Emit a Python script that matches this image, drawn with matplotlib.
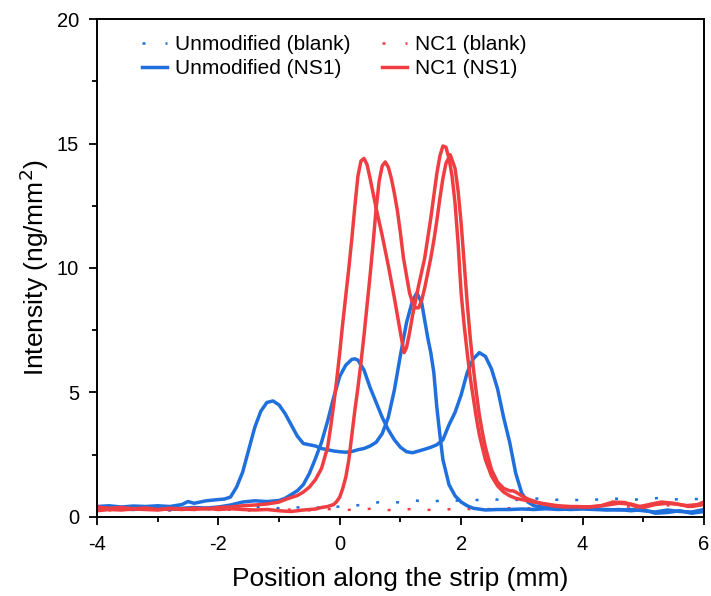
import matplotlib
matplotlib.use("Agg")
import matplotlib.pyplot as plt
from matplotlib.lines import Line2D
from matplotlib.ticker import MultipleLocator

plt.rcParams['font.family'] = ['Liberation Sans', 'DejaVu Sans']
plt.rcParams['axes.unicode_minus'] = False

# Unmodified (NS1), replicate 1
x_un1 = [-4.0, -3.8, -3.6, -3.4, -3.2, -3.0, -2.8, -2.6, -2.5, -2.4, -2.2, -2.0, -1.9, -1.8, -1.7,
         -1.6, -1.5, -1.4, -1.3, -1.2, -1.1, -1.0, -0.9, -0.8, -0.7, -0.6, -0.5, -0.4, -0.3, -0.2,
         -0.1, 0.0, 0.1, 0.2, 0.3, 0.4, 0.5, 0.6, 0.7, 0.8, 0.9, 1.0, 1.1, 1.2, 1.27, 1.35, 1.4,
         1.45, 1.5, 1.55, 1.6, 1.65, 1.7, 1.8, 1.9, 2.0, 2.1, 2.2, 2.4, 2.6, 2.8, 3.0, 3.2, 3.4,
         3.6, 3.8, 4.0, 4.2, 4.4, 4.6, 4.8, 5.0, 5.2, 5.4, 5.6, 5.8, 6.0]
y_un1 = [0.42, 0.45, 0.40, 0.44, 0.42, 0.45, 0.42, 0.50, 0.62, 0.55, 0.65, 0.70, 0.72, 0.80, 1.2,
         1.8, 2.7, 3.6, 4.25, 4.6, 4.66, 4.5, 4.15, 3.7, 3.25, 2.95, 2.9, 2.85, 2.75, 2.7,
         2.65, 2.62, 2.6, 2.63, 2.7, 2.75, 2.85, 3.0, 3.35, 4.0, 5.1, 6.5, 7.8, 8.7, 9.0, 8.6, 7.9,
         7.2, 6.6, 5.8, 4.4, 3.3, 2.3, 1.3, 0.85, 0.6, 0.45, 0.35, 0.28, 0.3, 0.3, 0.32, 0.3, 0.33,
         0.3, 0.32, 0.35, 0.32, 0.3, 0.28, 0.3, 0.25, 0.2, 0.28, 0.22, 0.2, 0.3]

# Unmodified (NS1), replicate 2
x_un2 = [-4.0, -3.8, -3.6, -3.4, -3.2, -3.0, -2.8, -2.6, -2.4, -2.2, -2.0, -1.8, -1.6, -1.4, -1.2,
         -1.0, -0.9, -0.8, -0.7, -0.6, -0.5, -0.4, -0.3, -0.2, -0.1, 0.0, 0.1, 0.2, 0.25, 0.3, 0.4,
         0.5, 0.6, 0.7, 0.8, 0.9, 1.0, 1.1, 1.2, 1.3, 1.4, 1.5, 1.6, 1.7, 1.8, 1.9, 2.0, 2.1, 2.2,
         2.3, 2.4, 2.5, 2.6, 2.7, 2.8, 2.9, 3.0, 3.1, 3.2, 3.4, 3.6, 3.8, 4.0, 4.2, 4.4, 4.6, 4.8,
         5.0, 5.2, 5.4, 5.6, 5.8, 6.0]
y_un2 = [0.3, 0.35, 0.32, 0.3, 0.35, 0.33, 0.3, 0.35, 0.38, 0.36, 0.4, 0.48, 0.6, 0.65, 0.62,
         0.66, 0.75, 0.9, 1.05, 1.3, 1.75, 2.35, 3.0, 3.85, 4.8, 5.65, 6.1, 6.33, 6.35, 6.3, 5.9,
         5.2, 4.6, 4.0, 3.5, 3.1, 2.8, 2.62, 2.58, 2.65, 2.72, 2.8, 2.9, 3.1, 3.7, 4.2, 4.9, 5.8, 6.35,
         6.6, 6.45, 5.95, 5.15, 4.0, 3.0, 1.75, 0.95, 0.6, 0.45, 0.38, 0.33, 0.3, 0.32, 0.3, 0.28, 0.3, 0.25,
         0.3, 0.15, 0.18, 0.25, 0.15, 0.22]

# NC1 (NS1), replicate 1
x_nc1 = [-4.0, -3.8, -3.6, -3.4, -3.2, -3.0, -2.8, -2.6, -2.4, -2.2, -2.0, -1.8, -1.6, -1.4, -1.2,
         -1.0, -0.9, -0.8, -0.7, -0.6, -0.5, -0.4, -0.3, -0.2, -0.15, -0.1, -0.05, 0.0, 0.05, 0.1,
         0.15, 0.2, 0.25, 0.3, 0.35, 0.4, 0.45, 0.5, 0.55, 0.6, 0.7, 0.8, 0.9, 1.0, 1.06, 1.1, 1.15,
         1.2, 1.3, 1.4, 1.5, 1.6, 1.65, 1.7, 1.75, 1.8, 1.85, 1.9, 1.95, 2.0, 2.05, 2.1, 2.15, 2.2,
         2.25, 2.3, 2.4, 2.5, 2.6, 2.7, 2.8, 2.9, 3.0, 3.2, 3.4, 3.6, 3.8, 4.0, 4.2, 4.4, 4.6, 4.8,
         5.0, 5.2, 5.4, 5.6, 5.8, 6.0]
y_nc1 = [0.25, 0.3, 0.28, 0.32, 0.3, 0.28, 0.33, 0.3, 0.35, 0.32, 0.38, 0.4, 0.45, 0.48, 0.52,
         0.6, 0.7, 0.78, 0.86, 1.0, 1.2, 1.5, 1.95, 2.8, 3.6, 4.5, 5.5, 6.6, 7.8, 8.9,
         10.0, 11.2, 12.5, 13.7, 14.3, 14.4, 14.15, 13.6, 13.0, 12.4, 11.3, 10.1, 8.8, 7.4, 6.6, 6.8, 7.4,
         8.1, 9.3, 10.4, 12.0, 13.8, 14.5, 14.9, 14.85, 14.4, 13.7, 12.6, 11.0, 9.0, 7.7, 6.6, 5.6, 4.8,
         4.0, 3.3, 2.3, 1.65, 1.25, 1.0, 0.85, 0.75, 0.7, 0.6, 0.52, 0.45, 0.42, 0.4, 0.42, 0.48, 0.55, 0.52,
         0.38, 0.5, 0.55, 0.5, 0.42, 0.5]

# NC1 (NS1), replicate 2
x_nc2 = [-4.0, -3.8, -3.6, -3.4, -3.2, -3.0, -2.8, -2.6, -2.4, -2.2, -2.0, -1.8, -1.6, -1.4, -1.2,
         -1.0, -0.8, -0.6, -0.4, -0.3, -0.2, -0.1, -0.05, 0.0, 0.05, 0.1, 0.15, 0.2, 0.25, 0.3, 0.35,
         0.4, 0.45, 0.5, 0.55, 0.6, 0.65, 0.7, 0.75, 0.8, 0.85, 0.9, 0.95, 1.0, 1.05, 1.1, 1.15, 1.2,
         1.25, 1.3, 1.35, 1.4, 1.45, 1.5, 1.55, 1.6, 1.65, 1.7, 1.75, 1.82, 1.9, 1.95, 2.0, 2.05, 2.1,
         2.15, 2.2, 2.25, 2.3, 2.35, 2.4, 2.5, 2.6, 2.7, 2.8, 2.85, 2.9, 3.0, 3.1, 3.3, 3.5, 3.7, 3.9,
         4.1, 4.3, 4.5, 4.7, 4.9, 5.1, 5.3, 5.5, 5.7, 5.9, 6.0]
y_nc2 = [0.4, 0.35, 0.38, 0.33, 0.36, 0.3, 0.35, 0.32, 0.3, 0.35, 0.3, 0.33, 0.3, 0.28, 0.3,
         0.25, 0.22, 0.28, 0.32, 0.38, 0.42, 0.5, 0.62, 0.8, 1.15, 1.6, 2.3, 3.3, 4.3, 5.2, 6.2,
         7.3, 8.5, 9.7, 11.0, 12.4, 13.5, 14.1, 14.26, 14.05, 13.6, 13.0, 12.3, 11.4, 10.4, 9.7, 9.0, 8.6,
         8.4, 8.4, 8.7, 9.2, 9.8, 10.4, 11.1, 11.9, 12.8, 13.6, 14.2, 14.55, 14.0, 13.1, 11.8, 10.2, 8.6,
         7.2, 6.0, 5.0, 4.1, 3.4, 2.8, 1.9, 1.4, 1.15, 1.05, 1.05, 1.0, 0.85, 0.72, 0.55, 0.45, 0.4, 0.42,
         0.4, 0.45, 0.6, 0.58, 0.4, 0.5, 0.6, 0.55, 0.45, 0.5, 0.6]

# blanks
x_blank = [-4.0, -3.75, -3.5, -3.25, -3.0, -2.75, -2.5, -2.25, -2.0, -1.75, -1.5, -1.25, -1.0,
           -0.75, -0.5, -0.25, 0.0, 0.25, 0.5, 0.75, 1.0, 1.25, 1.5, 1.75, 2.0, 2.25, 2.5, 2.75,
           3.0, 3.25, 3.5, 3.75, 4.0, 4.25, 4.5, 4.75, 5.0, 5.25, 5.5, 5.75, 6.0]
y_un_blank = [0.38, 0.42, 0.36, 0.4, 0.35, 0.38, 0.42, 0.37, 0.4, 0.36, 0.39, 0.41, 0.35,
              0.38, 0.4, 0.36, 0.42, 0.45, 0.55, 0.62, 0.58, 0.66, 0.6, 0.7, 0.64, 0.68, 0.72, 0.66,
              0.7, 0.74, 0.68, 0.72, 0.66, 0.7, 0.75, 0.68, 0.72, 0.76, 0.7, 0.74, 0.7]
y_nc_blank = [0.3, 0.26, 0.32, 0.28, 0.3, 0.25, 0.3, 0.33, 0.28, 0.3, 0.26, 0.31, 0.28,
              0.3, 0.27, 0.32, 0.3, 0.28, 0.33, 0.27, 0.3, 0.32, 0.28, 0.3, 0.34, 0.3, 0.32, 0.36,
              0.3, 0.4, 0.42, 0.38, 0.4, 0.45, 0.5, 0.42, 0.4, 0.5, 0.45, 0.4, 0.5]

blue = '#1f6fdd'
red = '#ef3e42'
lw = 2.5

fig = plt.figure(figsize=(7.11, 5.96), dpi=100)
ax = fig.add_axes([0.1364, 0.1326, 0.8536, 0.8355])

ax.plot(x_blank, y_un_blank, color=blue, lw=1.8, linestyle=(0, (1.2, 6.8)))
ax.plot(x_blank, y_nc_blank, color=red, lw=1.8, linestyle=(3.5, (1.2, 6.8)))
ax.plot(x_un1, y_un1, color=blue, lw=lw)
ax.plot(x_un2, y_un2, color=blue, lw=lw)
ax.plot(x_nc1, y_nc1, color=red, lw=lw)
ax.plot(x_nc2, y_nc2, color=red, lw=lw)

ax.set_xlim(-4, 6)
ax.set_ylim(0, 20)
ax.xaxis.set_major_locator(MultipleLocator(2))
ax.xaxis.set_minor_locator(MultipleLocator(1))
ax.yaxis.set_major_locator(MultipleLocator(5))
ax.yaxis.set_minor_locator(MultipleLocator(2.5))
ax.tick_params(which='major', direction='out', length=6, width=1.3, labelsize=14.5)
ax.tick_params(which='minor', direction='out', length=3.5, width=1.3)
ax.tick_params(axis='y', which='major', pad=7)
ax.tick_params(axis='x', which='major', pad=7)
for s in ax.spines.values():
    s.set_linewidth(1.4)

ax.set_xlabel('Position along the strip (mm)', fontsize=19, labelpad=9)
ax.set_ylabel('Intensity (ng/mm$^2$)', fontsize=19, labelpad=4)

handles = [
    Line2D([], [], color=blue, lw=1.8, linestyle=(0, (1.2, 8))),
    Line2D([], [], color=blue, lw=lw),
    Line2D([], [], color=red, lw=1.8, linestyle=(0, (1.2, 8))),
    Line2D([], [], color=red, lw=lw),
]
labels = ['Unmodified (blank)', 'Unmodified (NS1)', 'NC1 (blank)', 'NC1 (NS1)']
ax.legend(handles, labels, ncol=2, frameon=False, fontsize=15,
          loc='upper left', bbox_to_anchor=(0.043, 1.005), handlelength=1.2,
          handletextpad=0.4, columnspacing=1.5, labelspacing=0.22)

fig.savefig('out.png', dpi=100)
